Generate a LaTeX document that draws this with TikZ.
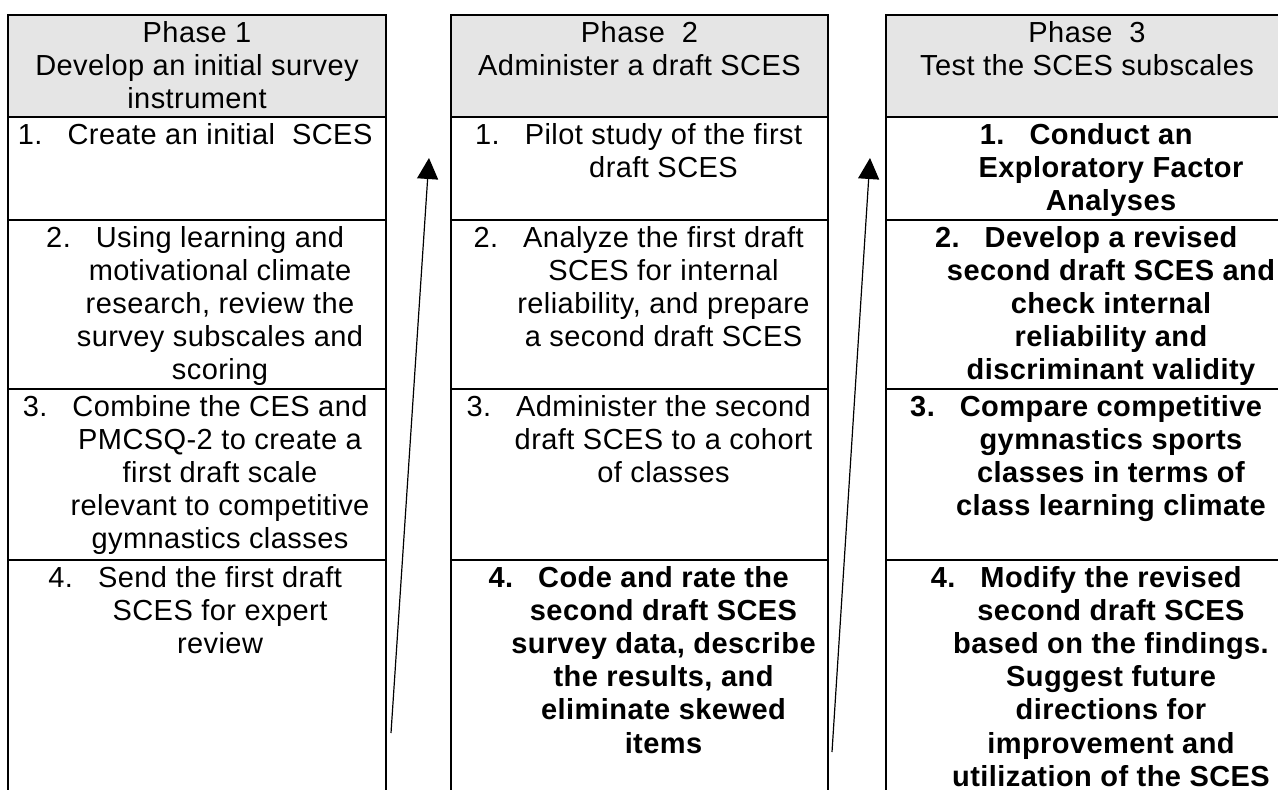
\documentclass[tikz,border=0pt]{standalone}
\usepackage{fontspec}
\setmainfont{Liberation Sans}[LetterSpace=1.5]
\usetikzlibrary{arrows.meta}
\newcommand\numitem[1]{\rule{0pt}{24pt}\llap{#1\hspace{25pt}}}
\newcommand\firstline{\rule{0pt}{24pt}}
\begin{document}
\begin{tikzpicture}[x=1pt,y=-1pt,
  cellbox/.style={draw, line width=2.2pt, inner sep=0pt},
  hdrbox/.style={cellbox, fill=black!10},
  txt/.style={anchor=north, inner sep=0pt, align=center, font=\fontsize{29}{33.2}\selectfont},
  btxt/.style={txt, font=\fontsize{29}{33.2}\selectfont\bfseries},
  arr/.style={line width=1.2pt, -{Triangle[length=21pt,width=21pt]}}]
\clip (0,0) rectangle (1278,790);
% column 1
\node[hdrbox, minimum width=378pt, minimum height=102pt] (h1) at (197,66) {};
\node[cellbox, minimum width=378pt, minimum height=103pt] (r11) at (197,168.5) {};
\node[cellbox, minimum width=378pt, minimum height=169pt] (r12) at (197,304.5) {};
\node[cellbox, minimum width=378pt, minimum height=171pt] (r13) at (197,474.5) {};
\node[cellbox, minimum width=378pt, minimum height=270pt] (r14) at (197,695) {};
% column 2
\node[hdrbox, minimum width=377pt, minimum height=102pt] (h2) at (639.5,66) {};
\node[cellbox, minimum width=377pt, minimum height=103pt] (r21) at (639.5,168.5) {};
\node[cellbox, minimum width=377pt, minimum height=169pt] (r22) at (639.5,304.5) {};
\node[cellbox, minimum width=377pt, minimum height=171pt] (r23) at (639.5,474.5) {};
\node[cellbox, minimum width=377pt, minimum height=270pt] (r24) at (639.5,695) {};
% column 3
\node[hdrbox, minimum width=402pt, minimum height=102pt] (h3) at (1087,66) {};
\node[cellbox, minimum width=402pt, minimum height=103pt] (r31) at (1087,168.5) {};
\node[cellbox, minimum width=402pt, minimum height=169pt] (r32) at (1087,304.5) {};
\node[cellbox, minimum width=402pt, minimum height=171pt] (r33) at (1087,474.5) {};
\node[cellbox, minimum width=402pt, minimum height=270pt] (r34) at (1087,695) {};
% texts column 1
\node[txt] (th1) at ([yshift=-4pt]h1.north) {\firstline Phase 1\\Develop an initial survey\\instrument};
\node[txt] (t11) at ([xshift=23pt,yshift=-4pt]r11.north) {\numitem{1.}Create an initial\ \ SCES};
\node[txt] (t12) at ([xshift=23pt,yshift=-4pt]r12.north) {\numitem{2.}Using learning and\\motivational climate\\research, review the\\survey subscales and\\scoring};
\node[txt] (t13) at ([xshift=23pt,yshift=-4pt]r13.north) {\numitem{3.}Combine the CES and\\PMCSQ-2 to create a\\first draft scale\\relevant to competitive\\gymnastics classes};
\node[txt] (t14) at ([xshift=23pt,yshift=-4pt]r14.north) {\numitem{4.}Send the first draft\\SCES for expert\\review};
% texts column 2
\node[txt] (th2) at ([yshift=-4pt]h2.north) {\firstline Phase\ \ 2\\Administer a draft SCES};
\node[txt] (t21) at ([xshift=24pt,yshift=-4pt]r21.north) {\numitem{1.}Pilot study of the first\\draft SCES};
\node[txt] (t22) at ([xshift=24pt,yshift=-4pt]r22.north) {\numitem{2.}Analyze the first draft\\SCES for internal\\reliability, and prepare\\a second draft SCES};
\node[txt] (t23) at ([xshift=24pt,yshift=-4pt]r23.north) {\numitem{3.}Administer the second\\draft SCES to a cohort\\of classes};
\node[btxt] (t24) at ([xshift=24pt,yshift=-4pt]r24.north) {\numitem{4.}Code and rate the\\second draft SCES\\survey data, describe\\the results, and\\eliminate skewed\\items};
% texts column 3
\node[txt] (th3) at ([yshift=-4pt]h3.north) {\firstline Phase\ \ 3\\Test the SCES subscales};
\node[btxt] (t31) at ([xshift=24pt,yshift=-4pt]r31.north) {\numitem{1.}Conduct an\\Exploratory Factor\\Analyses};
\node[btxt] (t32) at ([xshift=24pt,yshift=-4pt]r32.north) {\numitem{2.}Develop a revised\\second draft SCES and\\check internal\\reliability and\\discriminant validity};
\node[btxt] (t33) at ([xshift=24pt,yshift=-4pt]r33.north) {\numitem{3.}Compare competitive\\gymnastics sports\\classes in terms of\\class learning climate};
\node[btxt] (t34) at ([xshift=24pt,yshift=-4pt]r34.north) {\numitem{4.}Modify the revised\\second draft SCES\\based on the findings.\\Suggest future\\directions for\\improvement and\\utilization of the SCES};
% arrows
\coordinate (a1s) at (391,733);
\coordinate (a1e) at (429,158);
\coordinate (a2s) at (832,752);
\coordinate (a2e) at (870,158);
\draw[arr] (a1s) -- (a1e);
\draw[arr] (a2s) -- (a2e);
\end{tikzpicture}
\end{document}
